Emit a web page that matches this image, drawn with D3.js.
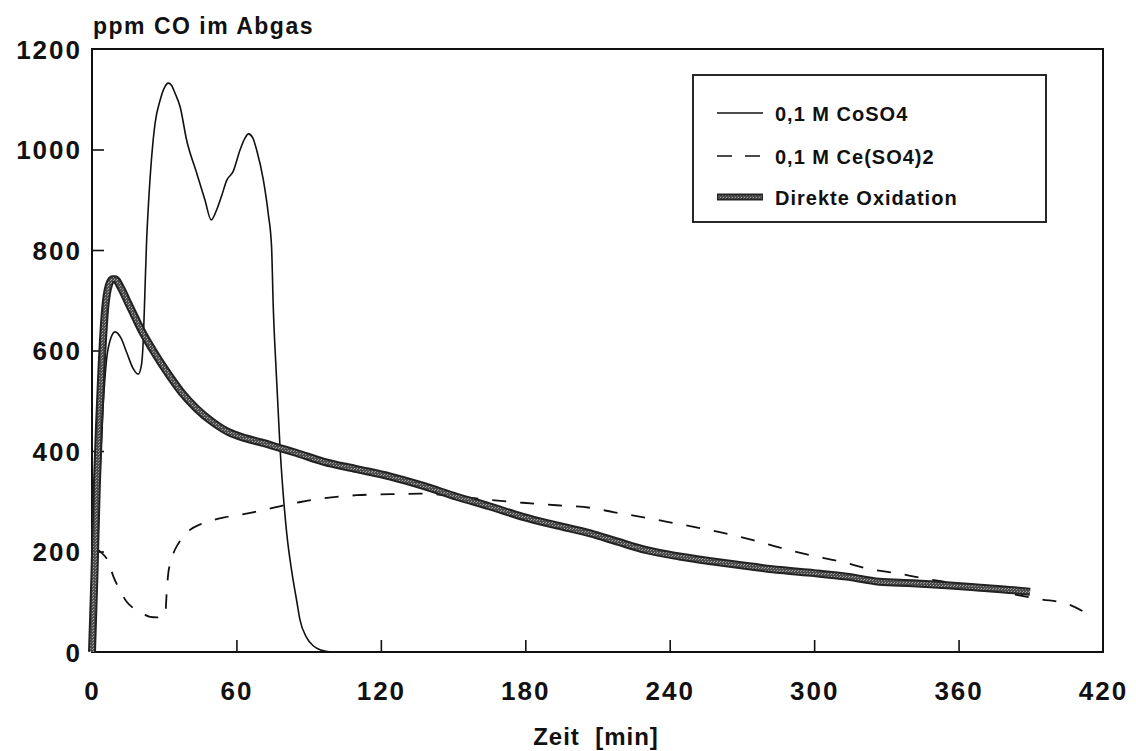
<!DOCTYPE html>
<html>
<head>
<meta charset="utf-8">
<script src="https://cdn.jsdelivr.net/npm/d3@7"></script>
<style>
    body { margin: 0; background: #fff; }
    text { font-family: "Liberation Sans", Arial, sans-serif; font-weight: bold; fill: #111; }
</style>
</head>
<body>
<div id="chart"></div>
<script>
// CO im Abgas (ppm) over time (min)
const coTime = [0, 1.5, 3, 4.5, 6, 7.5, 9.6, 12, 14.5, 17, 19.2, 20.5, 21.3, 22, 22.7, 23.4, 24.8, 26.2, 28.3, 30, 31.7, 33,
    34.5, 36.6, 39.3, 43.5, 46.9, 49.5, 51.8, 54, 56, 58.6, 61.5, 63.5, 65, 66.8, 68.4, 71.2, 73.2, 74.6, 75.3, 76.5,
    78.1, 80.9, 83, 85, 86.4, 89, 92, 95, 99];
const coValue = [0, 150, 330, 480, 580, 620, 637, 625, 595, 565, 553, 570, 620, 720, 820, 886, 986, 1052, 1098, 1122, 1132, 1128,
    1112, 1085, 1019, 953, 900, 860, 880, 910, 939, 956, 999, 1022, 1031, 1023, 999, 939, 873, 806, 687, 560,
    408, 236, 160, 103, 64, 30, 12, 4, 0];

const ceTime = [2, 4.5, 6.8, 8.9, 11.6, 14.4, 17, 19.9, 22, 24.1, 27, 29.5, 30.5, 31, 31.7, 32.8, 33.8, 35.9, 38, 40.7, 45,
    50, 55, 61.5, 70, 78, 86, 96, 110, 124, 138, 152, 165, 179, 193, 207, 217, 228, 239, 251, 264, 275, 287, 298,
    311, 322, 334, 345, 360, 375, 394, 405, 415];
const ceValue = [205, 195, 180, 150, 123, 100, 88, 80, 74, 70, 69, 70, 76, 117, 157, 180, 196, 216, 230, 243, 254,
    262, 268, 273, 281, 290, 298, 306, 312, 314, 315, 309, 303, 297, 292, 287, 278, 269, 259, 248, 235, 222, 206, 193,
    180, 166, 157, 147, 135, 122, 105, 96, 72];

const dirTime = [0, 1, 2, 3, 4, 5.4, 7, 8.5, 9.6, 12, 15, 18, 21, 25, 31, 37, 43.5, 50, 57, 64, 71, 78, 85, 96, 110,
    124, 138, 151.5, 165, 179, 193, 207, 218, 230, 244, 258, 272, 286, 300, 313.5, 327, 341, 355, 369, 382.8, 389.7];
const dirValue = [0, 150, 330, 460, 570, 680, 730, 742, 742, 725, 695, 665, 636, 603, 558, 518, 484, 458, 437, 425, 416, 406, 396, 379, 364,
    349, 330, 309, 290, 269, 252, 236, 220, 203, 190, 180, 171, 163, 157, 150, 140, 137, 133, 128, 123, 120];

const xTicks = [0, 60, 120, 180, 240, 300, 360, 420];
const yTicks = [0, 200, 400, 600, 800, 1000, 1200];
const seriesNames = ['0,1 M CoSO4', '0,1 M Ce(SO4)2', 'Direkte Oxidation'];

const width = 1136, height = 751;
const margin = { top: 49, right: 33, bottom: 99, left: 92 };

const svg = d3.select('#chart')
    .append('svg')
    .attr('width', width)
    .attr('height', height);

// stipple texture for the thick line
const defs = svg.append('defs');
const pat = defs.append('pattern')
    .attr('id', 'stipple')
    .attr('patternUnits', 'userSpaceOnUse')
    .attr('width', 3)
    .attr('height', 3);
pat.append('rect').attr('width', 3).attr('height', 3).attr('fill', '#4e4e4e');
pat.append('rect').attr('x', 0).attr('y', 0).attr('width', 1).attr('height', 1).attr('fill', '#a8a8a8');
pat.append('rect').attr('x', 2).attr('y', 1).attr('width', 1).attr('height', 1).attr('fill', '#9a9a9a');

const x = d3.scaleLinear().domain([0, 420]).range([margin.left, width - margin.right]);
const y = d3.scaleLinear().domain([0, 1200]).range([height - margin.bottom, margin.top]);

// Axes with inward ticks
const xAxis = svg.append('g')
    .attr('transform', `translate(0,${y(0)})`)
    .call(d3.axisBottom(x).tickValues(xTicks).tickFormat(d3.format('d'))
        .tickSizeInner(-12).tickSizeOuter(0).tickPadding(30));
const yAxis = svg.append('g')
    .attr('transform', `translate(${x(0)},0)`)
    .call(d3.axisLeft(y).tickValues(yTicks).tickFormat(d3.format('d'))
        .tickSizeInner(-12).tickSizeOuter(0).tickPadding(10));

[xAxis, yAxis].forEach(ax => {
    ax.select('.domain').remove();
    ax.selectAll('.tick line').attr('stroke', '#111').attr('stroke-width', 1.6);
    ax.selectAll('.tick text')
        .style('font-family', '"Liberation Sans", Arial, sans-serif')
        .style('font-weight', 'bold')
        .style('font-size', '26px')
        .style('letter-spacing', '2px')
        .attr('fill', '#111');
});
xAxis.selectAll('.tick line').filter(d => d === 0 || d === 420).remove();
yAxis.selectAll('.tick line').filter(d => d === 0 || d === 1200).remove();
yAxis.selectAll('.tick text').attr('dy', '0.36em');

// Plot frame
svg.append('rect')
    .attr('x', x(0))
    .attr('y', y(1200))
    .attr('width', x(420) - x(0))
    .attr('height', y(0) - y(1200))
    .attr('fill', 'none')
    .attr('stroke', '#111')
    .attr('stroke-width', 2);

const line = d3.line()
    .x(d => x(d[0]))
    .y(d => y(d[1]))
    .curve(d3.curveMonotoneX);

const zip = (a, b) => a.map((t, i) => [t, b[i]]);

// Ce(SO4)2 dashed
svg.append('path')
    .attr('d', line(zip(ceTime, ceValue)))
    .attr('fill', 'none')
    .attr('stroke', '#111')
    .attr('stroke-width', 1.8)
    .attr('stroke-dasharray', '14,14');

// CoSO4 thin
svg.append('path')
    .attr('d', line(zip(coTime, coValue)))
    .attr('fill', 'none')
    .attr('stroke', '#111')
    .attr('stroke-width', 1.6);

// Direkte Oxidation thick
const dirPath = line(zip(dirTime, dirValue));
svg.append('path')
    .attr('d', dirPath)
    .attr('fill', 'none')
    .attr('stroke', '#222')
    .attr('stroke-width', 8);
svg.append('path')
    .attr('d', dirPath)
    .attr('fill', 'none')
    .attr('stroke', 'url(#stipple)')
    .attr('stroke-width', 4);

// Title and axis label
svg.append('text')
    .attr('x', 93)
    .attr('y', 34)
    .style('font-size', '23px')
    .style('letter-spacing', '1.5px')
    .text('ppm CO im Abgas');

svg.append('text')
    .attr('x', 596)
    .attr('y', 745)
    .attr('text-anchor', 'middle')
    .style('font-size', '24px')
    .style('letter-spacing', '1px')
    .style('white-space', 'pre')
    .text('Zeit  [min]');

// Legend
const legend = svg.append('g').attr('transform', 'translate(693,75)');
legend.append('rect')
    .attr('width', 353)
    .attr('height', 147)
    .attr('fill', '#fff')
    .attr('stroke', '#111')
    .attr('stroke-width', 1.8);

const legendY = [38, 81, 122];
seriesNames.forEach((name, i) => {
    const row = legend.append('g').attr('transform', `translate(0,${legendY[i]})`);
    if (i === 2) {
        row.append('line').attr('x1', 24).attr('x2', 70).attr('stroke', '#222').attr('stroke-width', 7);
        row.append('line').attr('x1', 25).attr('x2', 69).attr('stroke', 'url(#stipple)').attr('stroke-width', 3);
    } else {
        row.append('line')
            .attr('x1', 24).attr('x2', 70)
            .attr('stroke', '#111')
            .attr('stroke-width', 1.6)
            .attr('stroke-dasharray', i === 1 ? '15,13' : null);
    }
    row.append('text')
        .attr('x', 82)
        .attr('y', 8)
        .style('font-size', '20px')
        .style('letter-spacing', '1px')
        .text(name);
});
</script>
</body>
</html>
